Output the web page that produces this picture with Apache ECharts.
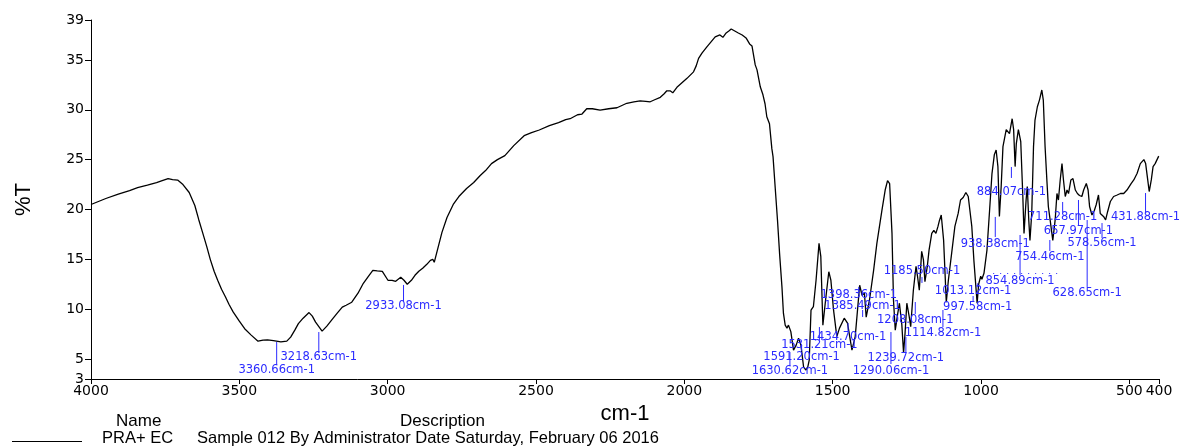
<!DOCTYPE html>
<html>
<head>
<meta charset="utf-8">
<title>IR spectrum</title>
<script src="https://cdn.jsdelivr.net/npm/echarts@6/dist/echarts.min.js"></script>
<style>
  html, body { margin: 0; padding: 0; background: #fff; }
  #chart { width: 1182px; height: 446px; }
</style>
</head>
<body>
<div id="chart"></div>
<script>
// wavenumber (cm-1) and transmittance (%T)
var wavenumbers = [
  4000, 3950, 3908, 3870, 3843, 3810, 3779, 3760, 3740, 3725, 3708, 3690, 3669, 3650, 3637, 3624,
  3610, 3598, 3585, 3573, 3560, 3547, 3535, 3521, 3500, 3482, 3460, 3437, 3420, 3405, 3385, 3360,
  3340, 3327, 3313, 3301, 3285, 3265, 3254, 3243, 3221, 3205, 3185, 3170, 3153, 3140, 3121, 3100,
  3082, 3065, 3050, 3035, 3018, 2999, 2985, 2973, 2956, 2945, 2934, 2920, 2908, 2895, 2882, 2868,
  2856, 2848, 2843, 2830, 2817, 2800, 2779, 2760, 2734, 2710, 2688, 2670, 2650, 2630, 2605, 2575,
  2540, 2515, 2489, 2455, 2424, 2400, 2385, 2360, 2345, 2329, 2310, 2284, 2255, 2227, 2194, 2170,
  2149, 2130, 2115, 2100, 2081, 2068, 2059, 2048, 2039, 2025, 2008, 1991, 1969, 1960, 1952, 1940,
  1924, 1910, 1896, 1880, 1870, 1859, 1850, 1842, 1830, 1818, 1805, 1792, 1780, 1772, 1761, 1755,
  1744, 1735, 1728, 1722, 1713, 1705, 1701, 1694, 1686, 1679, 1671, 1666, 1660, 1654, 1649, 1641,
  1632, 1623, 1615, 1607, 1598, 1590, 1584, 1579, 1573, 1565, 1556, 1546, 1540, 1533, 1524, 1513,
  1506, 1497, 1486, 1477, 1461, 1450, 1435, 1424, 1409, 1401, 1393, 1387, 1376, 1362, 1351, 1334,
  1323, 1315, 1308, 1300, 1295, 1289, 1281, 1275, 1267, 1261, 1256, 1250, 1242, 1237, 1228, 1219,
  1214, 1208, 1200, 1194, 1189, 1181, 1175, 1166, 1159, 1152, 1145, 1140, 1134, 1126, 1117, 1110,
  1099, 1088, 1077, 1069, 1060, 1051, 1043, 1031, 1024, 1013, 1008, 1001, 997, 990, 980, 971,
  963, 955, 949, 943, 938, 932, 926, 915, 904, 895, 890, 885, 881, 874, 866, 859,
  855, 848, 844, 839, 835, 829, 823, 818, 810, 803, 795, 790, 784, 778, 773, 767,
  758, 750, 744, 739, 733, 727, 722, 716, 710, 705, 697, 690, 682, 675, 668, 660,
  654, 645, 639, 634, 626, 618, 612, 604, 598, 592, 587, 580, 573, 564, 553, 541,
  530, 519, 508, 494, 485, 474, 463, 451, 445, 438, 433, 426, 420, 413, 401, 400
];
var transmittance = [
  20.5, 21.1, 21.55, 21.9, 22.2, 22.45, 22.7, 22.9, 23.1, 23.0, 22.95, 22.5, 21.7, 20.4, 19.0, 17.7,
  16.3, 15.0, 13.8, 12.9, 12.0, 11.25, 10.5, 9.73, 8.8, 8.04, 7.4, 6.79, 6.9, 6.93, 6.85, 6.72,
  6.8, 7.2, 7.9, 8.55, 9.1, 9.66, 9.3, 8.7, 7.8, 8.3, 9.05, 9.6, 10.2, 10.4, 10.7, 11.6,
  12.6, 13.3, 13.9, 13.85, 13.8, 12.9, 12.9, 12.8, 13.2, 12.9, 12.5, 12.9, 13.4, 13.8, 14.1, 14.5,
  14.9, 15.0, 14.7, 16.2, 17.7, 19.2, 20.5, 21.3, 22.1, 22.7, 23.4, 23.9, 24.6, 25.0, 25.4, 26.4,
  27.4, 27.7, 27.97, 28.4, 28.7, 29.0, 29.1, 29.5, 29.57, 30.1, 30.1, 29.97, 30.1, 30.2, 30.65, 30.8,
  30.9, 30.85, 30.8, 31.0, 31.25, 31.6, 31.9, 31.9, 31.7, 32.25, 32.7, 33.15, 33.8, 34.4, 35.15, 35.7,
  36.3, 36.8, 37.3, 37.5, 37.26, 37.7, 37.9, 38.1, 37.9, 37.7, 37.5, 37.2, 36.6, 36.4, 34.5, 34.0,
  32.3, 31.5, 30.6, 29.3, 28.6, 26.1, 25.3, 22.3, 18.95, 15.6, 12.26, 9.6, 8.4, 8.1, 8.4, 7.75,
  5.9, 6.4, 7.1, 6.4, 4.2, 3.9, 4.2, 4.9, 9.9, 10.25, 12.9, 16.6, 15.3, 8.4, 10.9, 13.76,
  12.9, 9.9, 7.25, 8.1, 9.1, 8.6, 5.9, 7.25, 12.4, 11.4, 11.6, 9.2, 10.9, 13.9, 16.6, 19.9,
  21.95, 22.9, 22.6, 17.6, 10.9, 7.9, 9.5, 10.6, 8.5, 5.6, 7.6, 10.6, 9.25, 8.25, 11.9, 14.3,
  13.3, 11.9, 15.8, 14.95, 12.75, 14.3, 15.95, 17.6, 17.9, 17.6, 18.3, 18.9, 19.45, 16.9, 10.7, 12.9,
  15.6, 18.3, 19.6, 20.95, 21.2, 21.7, 21.3, 18.3, 14.9, 10.6, 12.5, 13.3, 13.0, 13.6, 15.9, 19.95,
  23.6, 25.5, 25.96, 24.3, 19.3, 22.3, 26.3, 28.0, 27.6, 29.1, 28.0, 24.3, 26.6, 28.0, 26.8, 21.3,
  17.6, 20.95, 22.3, 18.95, 16.9, 19.6, 26.3, 28.97, 30.3, 30.97, 31.98, 30.97, 26.3, 22.95, 20.3, 18.95,
  16.9, 18.95, 21.6, 20.95, 22.96, 24.6, 22.96, 21.3, 21.95, 21.6, 22.96, 23.1, 21.95, 21.6, 21.4, 21.3,
  21.95, 22.6, 21.95, 20.3, 19.45, 19.9, 20.45, 21.45, 19.6, 19.8, 19.3, 18.95, 19.8, 20.8, 21.3, 21.45,
  21.6, 21.6, 21.95, 22.6, 22.96, 23.6, 24.6, 25.0, 24.6, 22.96, 21.8, 22.96, 24.3, 24.6, 25.35, 25.4
];

// peak picks: position, marker line top / bottom and label height (all in %T)
var peakWn = [3360.66, 3218.63, 2933.08, 1630.62, 1591.20, 1531.21, 1434.70, 1398.36, 1385.49,
  1290.06, 1239.72, 1208.08, 1185.50, 1114.82, 1013.12, 997.58, 938.38, 884.07, 854.89,
  754.46, 711.28, 657.97, 628.65, 578.56, 431.88];
var peakTop = [6.71, 7.71, 12.43, 5.71, 6.41, 8.21, 8.62, 12.23, 9.92,
  7.71, 7.21, 10.72, 13.23, 9.92, 11.32, 12.6, 19.25, 24.26, 17.44,
  16.94, 20.75, 20.95, 18.94, 18.64, 21.65];
var peakBottom = [4.40, 5.61, 10.82, 4.30, 5.81, 6.91, 7.81, 11.82, 9.22,
  4.50, 5.71, 9.52, 12.63, 8.21, 10.72, 12.2, 17.24, 23.16, 13.43,
  15.84, 19.75, 18.44, 12.23, 17.14, 19.75];
var peakLabel = [3.90, 5.21, 10.32, 3.83, 5.24, 6.41, 7.24, 11.42, 10.35,
  3.83, 5.14, 8.92, 13.86, 7.64, 11.85, 10.25, 16.54, 21.72, 12.80,
  15.26, 19.28, 17.87, 11.65, 16.61, 19.28];

var xTicks = [4000, 3500, 3000, 2500, 2000, 1500, 1000, 500, 400];
var yTicks = [3, 5, 10, 15, 20, 25, 30, 35, 39];

var spectrum = wavenumbers.map(function (w, i) { return [w, transmittance[i]]; });
var peaks = peakWn.map(function (w, i) { return [w, peakTop[i], peakBottom[i], peakLabel[i]]; });

var blue = '#2b2bff';
var myChart = echarts.init(document.getElementById('chart'));

var option = {
  animation: false,
  backgroundColor: '#fff',
  grid: { left: 91, right: 23, top: 20, bottom: 67 },
  xAxis: {
    type: 'value',
    min: 400,
    max: 4000,
    inverse: true,
    name: 'cm-1',
    nameLocation: 'middle',
    nameGap: 11,
    nameTextStyle: { fontFamily: 'Liberation Sans', fontSize: 22, color: '#000' },
    splitLine: { show: false },
    axisLine: { lineStyle: { color: '#000', width: 1 } },
    axisTick: { customValues: xTicks, length: 5, lineStyle: { color: '#000' } },
    axisLabel: {
      customValues: xTicks,
      margin: 5,
      fontFamily: 'DejaVu Sans',
      fontSize: 14,
      color: '#000',
      formatter: function (v) { return String(v); }
    }
  },
  yAxis: {
    type: 'value',
    min: 3,
    max: 39,
    name: '%T',
    nameLocation: 'middle',
    nameGap: 56,
    nameRotate: 90,
    nameTextStyle: { fontFamily: 'Liberation Sans', fontSize: 22, color: '#000' },
    splitLine: { show: false },
    axisLine: { show: true, lineStyle: { color: '#000', width: 1 } },
    axisTick: { show: true, customValues: yTicks, length: 6, lineStyle: { color: '#000' } },
    axisLabel: {
      customValues: yTicks,
      margin: 7,
      fontFamily: 'DejaVu Sans',
      fontSize: 14,
      color: '#000',
      formatter: function (v) { return String(v); }
    }
  },
  series: [
    {
      name: 'PRA+ EC',
      type: 'line',
      data: spectrum,
      showSymbol: false,
      smooth: false,
      lineStyle: { color: '#000', width: 1.3 },
      silent: true,
      markLine: {
        silent: true,
        symbol: 'none',
        label: { show: false },
        lineStyle: { color: blue, type: [1, 6], width: 1 },
        data: [[{ coord: [959, 13.6] }, { coord: [743, 13.6] }]]
      }
    },
    {
      type: 'custom',
      data: peaks,
      silent: true,
      clip: false,
      z: 5,
      encode: { x: 0, y: [1, 2, 3] },
      renderItem: function (params, api) {
        var w = api.value(0);
        var top = api.coord([w, api.value(1)]);
        var bot = api.coord([w, api.value(2)]);
        var lab = api.coord([w, api.value(3)]);
        var dx = -4;
        return {
          type: 'group',
          children: [
            {
              type: 'line',
              shape: { x1: top[0] + dx, y1: top[1], x2: bot[0] + dx, y2: bot[1] },
              style: { stroke: blue, lineWidth: 1 }
            },
            {
              type: 'text',
              x: lab[0] + dx,
              y: lab[1],
              style: {
                text: w.toFixed(2) + 'cm-1',
                fill: blue,
                font: '11.5px "DejaVu Sans"',
                align: 'center',
                verticalAlign: 'middle'
              }
            }
          ]
        };
      }
    }
  ],
  graphic: [
    { type: 'text', left: 116, top: 413, style: { text: 'Name', font: '17px "Liberation Sans"', fill: '#000' } },
    { type: 'text', left: 400, top: 413, style: { text: 'Description', font: '17px "Liberation Sans"', fill: '#000' } },
    { type: 'line', shape: { x1: 12, y1: 441.5, x2: 82, y2: 441.5 }, style: { stroke: '#000', lineWidth: 1 } },
    { type: 'text', left: 102, top: 430, style: { text: 'PRA+ EC', font: '16.5px "Liberation Sans"', fill: '#000' } },
    { type: 'text', left: 197, top: 430, style: { text: 'Sample 012 By Administrator Date Saturday, February 06 2016', font: '16.5px "Liberation Sans"', fill: '#000' } }
  ]
};

myChart.setOption(option);
</script>
</body>
</html>
